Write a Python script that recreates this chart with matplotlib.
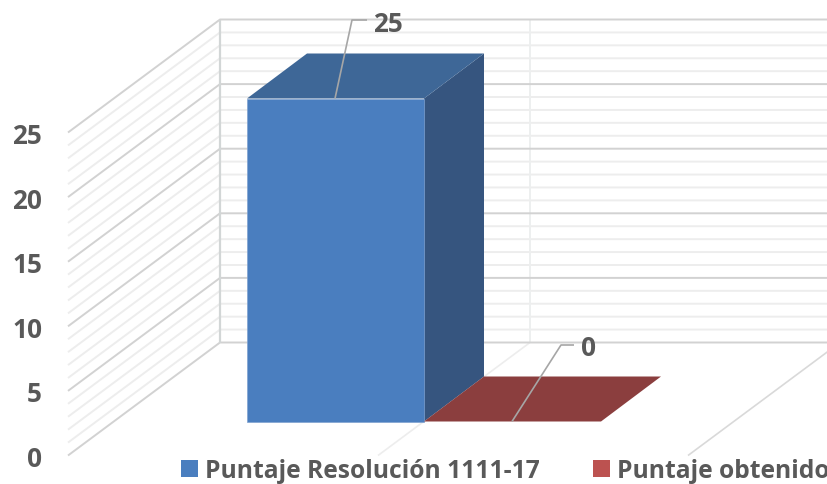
import matplotlib
matplotlib.use('Agg')
import matplotlib.pyplot as plt
from matplotlib.patches import Polygon, Rectangle

series = ['Puntaje Resolución 1111-17', 'Puntaje obtenido']
values = [25, 0]
y_major = [0, 5, 10, 15, 20, 25]
y_minor = [v for v in range(26) if v % 5 != 0]

front_colors = ['#4A7EBF', '#BC5250']
top_colors = ['#3E6797', '#8B3E3E']
side_colors = ['#36557F', '#6E2F2E']

plt.rcParams['font.family'] = ['Open Sans', 'DejaVu Sans']
TXT = '#595959'

fig = plt.figure(figsize=(8.28, 4.85), dpi=100)
ax = fig.add_axes([0, 0, 1, 1])
ax.set_xlim(0, 828)
ax.set_ylim(485, 0)
ax.axis('off')

# fake 3d box, everything in pixels
unit = 12.92
front_x0, back_x0 = 68, 220
front_y0, back_y0 = 456.5, 343.5
back_x1 = 840
dx, dy = back_x0 - front_x0, back_y0 - front_y0


def wall_y(v):
    return back_y0 - v * unit


def line(xs, ys, color, lw, z=1):
    ax.plot(xs, ys, color=color, lw=lw, zorder=z, solid_capstyle='butt')


for v in y_minor:
    y = wall_y(v)
    line([front_x0, back_x0, back_x1], [y - dy, y, y], '#EDEDED', 1.4)
line([530, 530], [wall_y(25), wall_y(0)], '#EDEFEF', 1.4)
line([530, 530 - dx], [back_y0, front_y0], '#EDEDED', 1.2)
for v in y_major:
    y = wall_y(v)
    line([front_x0, back_x0, back_x1], [y - dy, y, y], '#D2D2D2', 1.4, 2)
line([back_x0, back_x0], [wall_y(25), wall_y(0)], '#D2D6D6', 1.6, 2)
line([back_x1 - dx, back_x1], [front_y0, back_y0], '#D9D9D9', 1.2, 2)

for v in y_major:
    ax.text(42, front_y0 - v * unit, str(v), ha='right', va='center_baseline',
            fontsize=18.8, fontweight='bold', color=TXT)

# bars
bar_w = 177
bar_dx, bar_dy = 60, -45
base_y = 422.5
bar_x = [247, 424]
for x0, v, fc, tc, sc in zip(bar_x, values, front_colors, top_colors, side_colors):
    top = base_y - v * unit
    x1 = x0 + bar_w
    if v > 0:
        ax.add_patch(Polygon([(x1, top), (x1 + bar_dx, top + bar_dy), (x1 + bar_dx, base_y + bar_dy), (x1, base_y)],
                             fc=sc, ec='none', zorder=3))
        ax.add_patch(Rectangle((x0, top), bar_w, v * unit, fc=fc, ec='#7FA2D0', lw=0.5, zorder=4))
    ax.add_patch(Polygon([(x0, top), (x0 + bar_dx, top + bar_dy), (x1 + bar_dx, top + bar_dy), (x1, top)],
                         fc=tc, ec='none', zorder=5))

# data labels with leader lines
line([335, 352, 367], [base_y - values[0] * unit, 21, 21], '#A6A6A6', 1.2, 6)
ax.text(373, 21, str(values[0]), ha='left', va='center_baseline', fontsize=18.8, fontweight='bold', color=TXT, zorder=7)
line([512, 561, 574], [base_y - values[1] * unit, 346, 346], '#A6A6A6', 1.2, 6)
ax.text(581, 346, str(values[1]), ha='left', va='center_baseline', fontsize=18.8, fontweight='bold', color=TXT, zorder=7)

# legend
for sq_x, txt_x, name, c in zip([181, 593], [205, 617], series, front_colors):
    ax.add_patch(Rectangle((sq_x, 461), 17, 17, fc=c, ec='none', zorder=7))
    ax.text(txt_x, 469, name, ha='left', va='center_baseline', fontsize=17.7, fontweight='bold', color=TXT, zorder=7)

fig.savefig('out.png', dpi=100)
